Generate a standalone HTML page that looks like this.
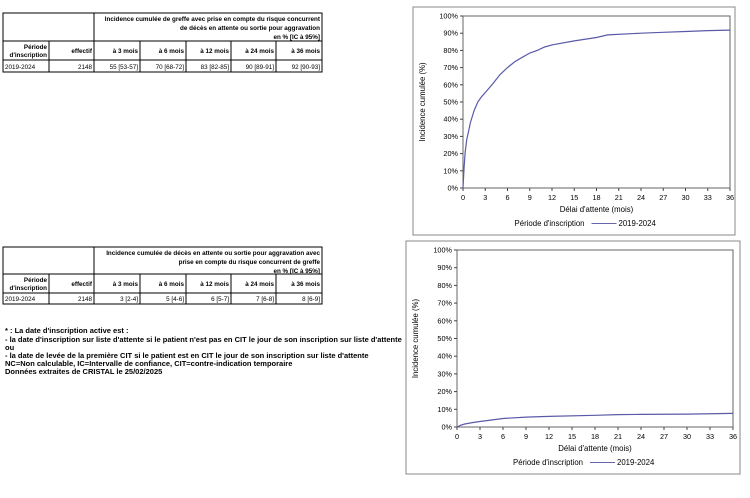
<!DOCTYPE html>
<html><head><meta charset="utf-8"><style>
html,body{margin:0;padding:0;background:#fff;width:750px;height:498px;overflow:hidden}
svg{display:block;font-family:"Liberation Sans",Arial,sans-serif}
</style></head><body>
<svg id="s" width="750" height="498" viewBox="0 0 750 498" xmlns="http://www.w3.org/2000/svg"></svg>
<script>
var s=document.getElementById('s'),h='';
function t(x,y,txt,o){o=o||{};h+='<text x="'+x+'" y="'+y+'" font-size="'+(o.fs||7)+'" font-weight="'+(o.b?'bold':'normal')+'" text-anchor="'+(o.a||'start')+'" fill="#000"'+(o.tr?' transform="'+o.tr+'"':'')+'>'+txt+'</text>';}
function l(x1,y1,x2,y2,c,w){h+='<line x1="'+x1+'" y1="'+y1+'" x2="'+x2+'" y2="'+y2+'" stroke="'+(c||'#000')+'" stroke-width="'+(w||1)+'"/>';}
function table(y0,y1,y2,y3,hdr,vals){
  var xs=[3,49,94,140,186,231,276,322];
  h+='<rect x="3" y="'+y0+'" width="319" height="'+(y3-y0)+'" fill="none" stroke="#000" stroke-width="1"/>';
  l(3,y1,322,y1);l(3,y2,322,y2);l(94,y0,94,y3);
  for(var i=1;i<7;i++)if(i!=2)l(xs[i],y1,xs[i],y3);
  for(var k=0;k<3;k++)t(320,y0+8+k*9,hdr[k],{b:1,fs:6.3,a:'end'});
  t(47,y1+8,'Période',{b:1,fs:6.3,a:'end'});t(47,y1+16,'d\'inscription',{b:1,fs:6.3,a:'end'});
  var hd=['effectif','à 3 mois','à 6 mois','à 12 mois','à 24 mois','à 36 mois'];
  for(i=0;i<6;i++)t(xs[i+2]-2,y1+12,hd[i],{b:1,fs:6.3,a:'end'});
  t(5,y3-3,'2019-2024',{fs:6.3});
  for(i=0;i<6;i++)t(xs[i+2]-2,y3-3,vals[i],{fs:6.3,a:'end'});
}
table(13,41,60,72,['Incidence cumulée de greffe avec prise en compte du risque concurrent','de décès en attente ou sortie pour aggravation','en % [IC à 95%]'],['2148','55 [53-57]','70 [68-72]','83 [82-85]','90 [89-91]','92 [90-93]']);
table(247,274,293,304,['Incidence cumulée de décès en attente ou sortie pour aggravation avec','prise en compte du risque concurrent de greffe','en % [IC à 95%]'],['2148','3 [2-4]','5 [4-6]','6 [5-7]','7 [6-8]','8 [6-9]']);
var fn=[["* : La date d'inscription active est :",333],["- la date d'inscription sur liste d'attente si le patient n'est pas en CIT le jour de son inscription sur liste d'attente",342],["ou",350],["- la date de levée de la première CIT si le patient est en CIT le jour de son inscription sur liste d'attente",358],["NC=Non calculable, IC=Intervalle de confiance, CIT=contre-indication temporaire",366],["Données extraites de CRISTAL le 25/02/2025",374]];
fn.forEach(function(f){t(5,f[1],f[0],{b:1,fs:7.5});});
function chart(F,L,R,T,B,pts){
  h+='<rect x="'+F[0]+'" y="'+F[1]+'" width="'+(F[2]-F[0])+'" height="'+(F[3]-F[1])+'" fill="#fff" stroke="#888" stroke-width="1"/>';
  h+='<rect x="'+L+'" y="'+T+'" width="'+(R-L)+'" height="'+(B-T)+'" fill="none" stroke="#666" stroke-width="1"/>';
  var i,y,x;
  for(i=0;i<=10;i++){y=B-(B-T)*i/10;l(L-3,y,L,y,'#444');t(L-5,y+2.5,(i*10)+'%',{fs:7.3,a:'end'});}
  for(i=0;i<=12;i++){x=L+(R-L)*i/12;l(x,B,x,B+3,'#444');t(x,B+12,i*3,{fs:7.3,a:'middle'});}
  var cx=(L+R)/2;
  t(cx,B+24,"Délai d'attente (mois)",{fs:7.8,a:'middle'});
  var yl=(T+B)/2;t(F[0]+12,yl,'Incidence cumulée (%)',{fs:7.8,a:'middle',tr:'rotate(-90 '+(F[0]+12)+' '+yl+')'});
  var ly=B+38;t(cx-12,ly,"Période d'inscription",{fs:7.8,a:'end'});
  l(cx-5,ly-2.5,cx+20,ly-2.5,'#6666aa',1);t(cx+22,ly,'2019-2024',{fs:7.8});
  var d='';pts.forEach(function(p,j){d+=(j?'L':'M')+(L+(R-L)*p[0]/36).toFixed(1)+','+(B-(B-T)*p[1]/100).toFixed(1);});
  h+='<path d="'+d+'" fill="none" stroke="#5a5aa8" stroke-width="1.2"/>';
}
chart([413,7,735,235],463,730,16,188,[[0,0],[0.15,12],[0.3,21],[0.5,28],[0.75,33],[1,38],[1.5,45],[2,50],[2.5,53],[3,55.5],[4,60.5],[5,66],[6,70],[7,73.5],[8,76],[9,78.5],[10,80],[11,82],[12,83.2],[15,85.5],[18,87.5],[19.5,89],[24,90],[27,90.5],[30,91],[33,91.5],[36,91.8]]);
chart([406,241,740,474],457,733,250,427,[[0,0],[0.5,1],[1,1.7],[2,2.5],[3,3.1],[4,3.7],[6,4.8],[9,5.6],[12,6],[18,6.6],[21,7],[24,7.1],[30,7.3],[36,7.7]]);
s.innerHTML=h;
</script>
</body></html>
